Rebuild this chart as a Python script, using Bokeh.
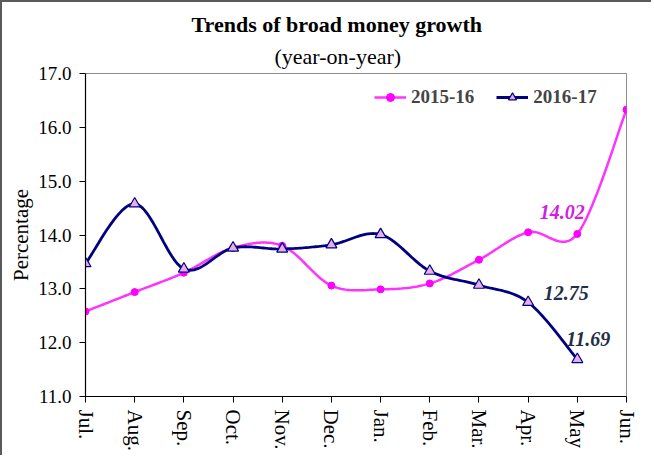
import numpy as np
from bokeh.plotting import figure
from bokeh.models import (Range1d, FixedTicker, PrintfTickFormatter, Title,
                          Legend, LegendItem, ColumnDataSource)
from bokeh.core.properties import value
from bokeh.embed import file_html
from bokeh.resources import INLINE

months = ["Jul.", "Aug.", "Sep.", "Oct.", "Nov.", "Dec.", "Jan.", "Feb.",
          "Mar.", "Apr.", "May", "Jun."]
s2015 = [12.58, 12.94, 13.30, 13.76, 13.80, 13.06, 12.99, 13.10, 13.54,
         14.05, 14.02, 16.33]
s2016 = [13.47, 14.58, 13.37, 13.76, 13.74, 13.82, 14.01, 13.33, 13.07,
         12.75, 11.69]
y_ticks = [11, 12, 13, 14, 15, 16, 17]

SERIF = "Liberation Serif"


def smooth(xs, ys, n=24):
    """Excel-style smoothed line: cubic Bezier through the points."""
    xs = np.asarray(xs, float)
    ys = np.asarray(ys, float)
    px, py = [], []
    m = len(xs)
    for i in range(m - 1):
        i0, i3 = max(i - 1, 0), min(i + 2, m - 1)
        p0 = np.array([xs[i], ys[i]])
        p3 = np.array([xs[i + 1], ys[i + 1]])
        c1 = p0 + (p3 - np.array([xs[i0], ys[i0]])) / 6.0
        c2 = p3 - (np.array([xs[i3], ys[i3]]) - p0) / 6.0
        t = np.linspace(0, 1, n, endpoint=(i == m - 2))[:, None]
        pts = ((1 - t) ** 3) * p0 + 3 * ((1 - t) ** 2) * t * c1 + \
            3 * (1 - t) * t ** 2 * c2 + t ** 3 * p3
        px.extend(pts[:, 0])
        py.extend(pts[:, 1])
    return px, py


x15 = list(range(len(s2015)))
x16 = list(range(len(s2016)))

p = figure(width=651, height=455, output_backend="svg", toolbar_location=None,
           x_range=Range1d(0, len(months) - 1), y_range=Range1d(11, 17),
           min_border_left=83, min_border_right=27, min_border_top=71,
           min_border_bottom=61)
p.styles = {"border-left": "2px solid #5a5a5a", "border-top": "2px solid #5a5a5a"}

p.add_layout(Title(text="(year-on-year)", align="left", offset=189,
                   text_font=SERIF, text_font_size="22px", text_color="black",
                   text_font_style="normal", standoff=10), "above")
p.add_layout(Title(text="Trends of broad money growth", align="left",
                   offset=106, text_font=SERIF, text_font_size="22px",
                   text_color="black", text_font_style="bold", standoff=0),
             "above")

p.xgrid.visible = False
p.ygrid.visible = False
p.outline_line_color = "#8c8c8c"
p.outline_line_width = 1
p.background_fill_color = "white"

# axes
p.xaxis.ticker = FixedTicker(ticks=x15)
p.xaxis.major_label_overrides = {i: m for i, m in enumerate(months)}
p.xaxis.major_label_orientation = "vertical"
p.yaxis.ticker = FixedTicker(ticks=y_ticks)
p.yaxis.formatter = PrintfTickFormatter(format="%.1f")
for ax in (p.xaxis[0], p.yaxis[0]):
    ax.axis_line_color = "black"
    ax.axis_line_width = 1.2
    ax.major_tick_line_color = "black"
    ax.major_tick_in = 0
    ax.major_tick_out = 6
    ax.minor_tick_line_color = None
    ax.major_label_text_font = SERIF
    ax.major_label_text_color = "black"
p.xaxis.major_label_text_font_size = "21px"
p.yaxis.major_label_text_font_size = "19px"
p.xaxis.major_label_standoff = 7
p.yaxis.major_label_standoff = 8
p.yaxis.axis_label = "Percentage"
p.yaxis.axis_label_text_font = SERIF
p.yaxis.axis_label_text_font_size = "21px"
p.yaxis.axis_label_text_color = "black"
p.yaxis.axis_label_text_font_style = "normal"
p.yaxis.axis_label_standoff = 2

# series
sx, sy = smooth(x15, s2015)
l15 = p.line(sx, sy, line_color="#ff33ff", line_width=2.5)
m15 = p.scatter(x15, s2015, marker="circle", size=7, fill_color="#ff00ff",
                line_color="#ff00ff")
sx, sy = smooth(x16, s2016)
l16 = p.line(sx, sy, line_color="#000080", line_width=2.8)
m16 = p.scatter(x16, s2016, marker="triangle", size=11, fill_color="#e6aee8",
                line_color="#000080", line_width=1.2)

# data labels
lab = ColumnDataSource(dict(
    x=[10, 9, 10],
    y=[s2015[10], s2016[9], s2016[10]],
    t=["%.2f" % s2015[10], "%.2f" % s2016[9], "%.2f" % s2016[10]],
    dx=[-15, 38, 11], dy=[-22, -9, -20],
    c=["#d21ee0", "#1f2f48", "#1f2f48"]))
p.text(x="x", y="y", text="t", x_offset="dx", y_offset="dy",
       text_color="c", source=lab, text_align="center",
       text_baseline="middle", text_font=value(SERIF),
       text_font_size="20px", text_font_style="bold italic")

legend = Legend(items=[LegendItem(label="2015-16", renderers=[l15, m15]),
                       LegendItem(label="2016-17", renderers=[l16, m16])],
                orientation="horizontal", location=(289, 288),
                padding=0, margin=0, spacing=22, glyph_width=32,
                glyph_height=20, label_height=20, label_standoff=5,
                border_line_color=None, background_fill_alpha=0,
                label_text_font=SERIF, label_text_font_size="19px",
                label_text_font_style="bold")
p.add_layout(legend, "center")

open("out.html", "w").write(file_html(p, INLINE))
